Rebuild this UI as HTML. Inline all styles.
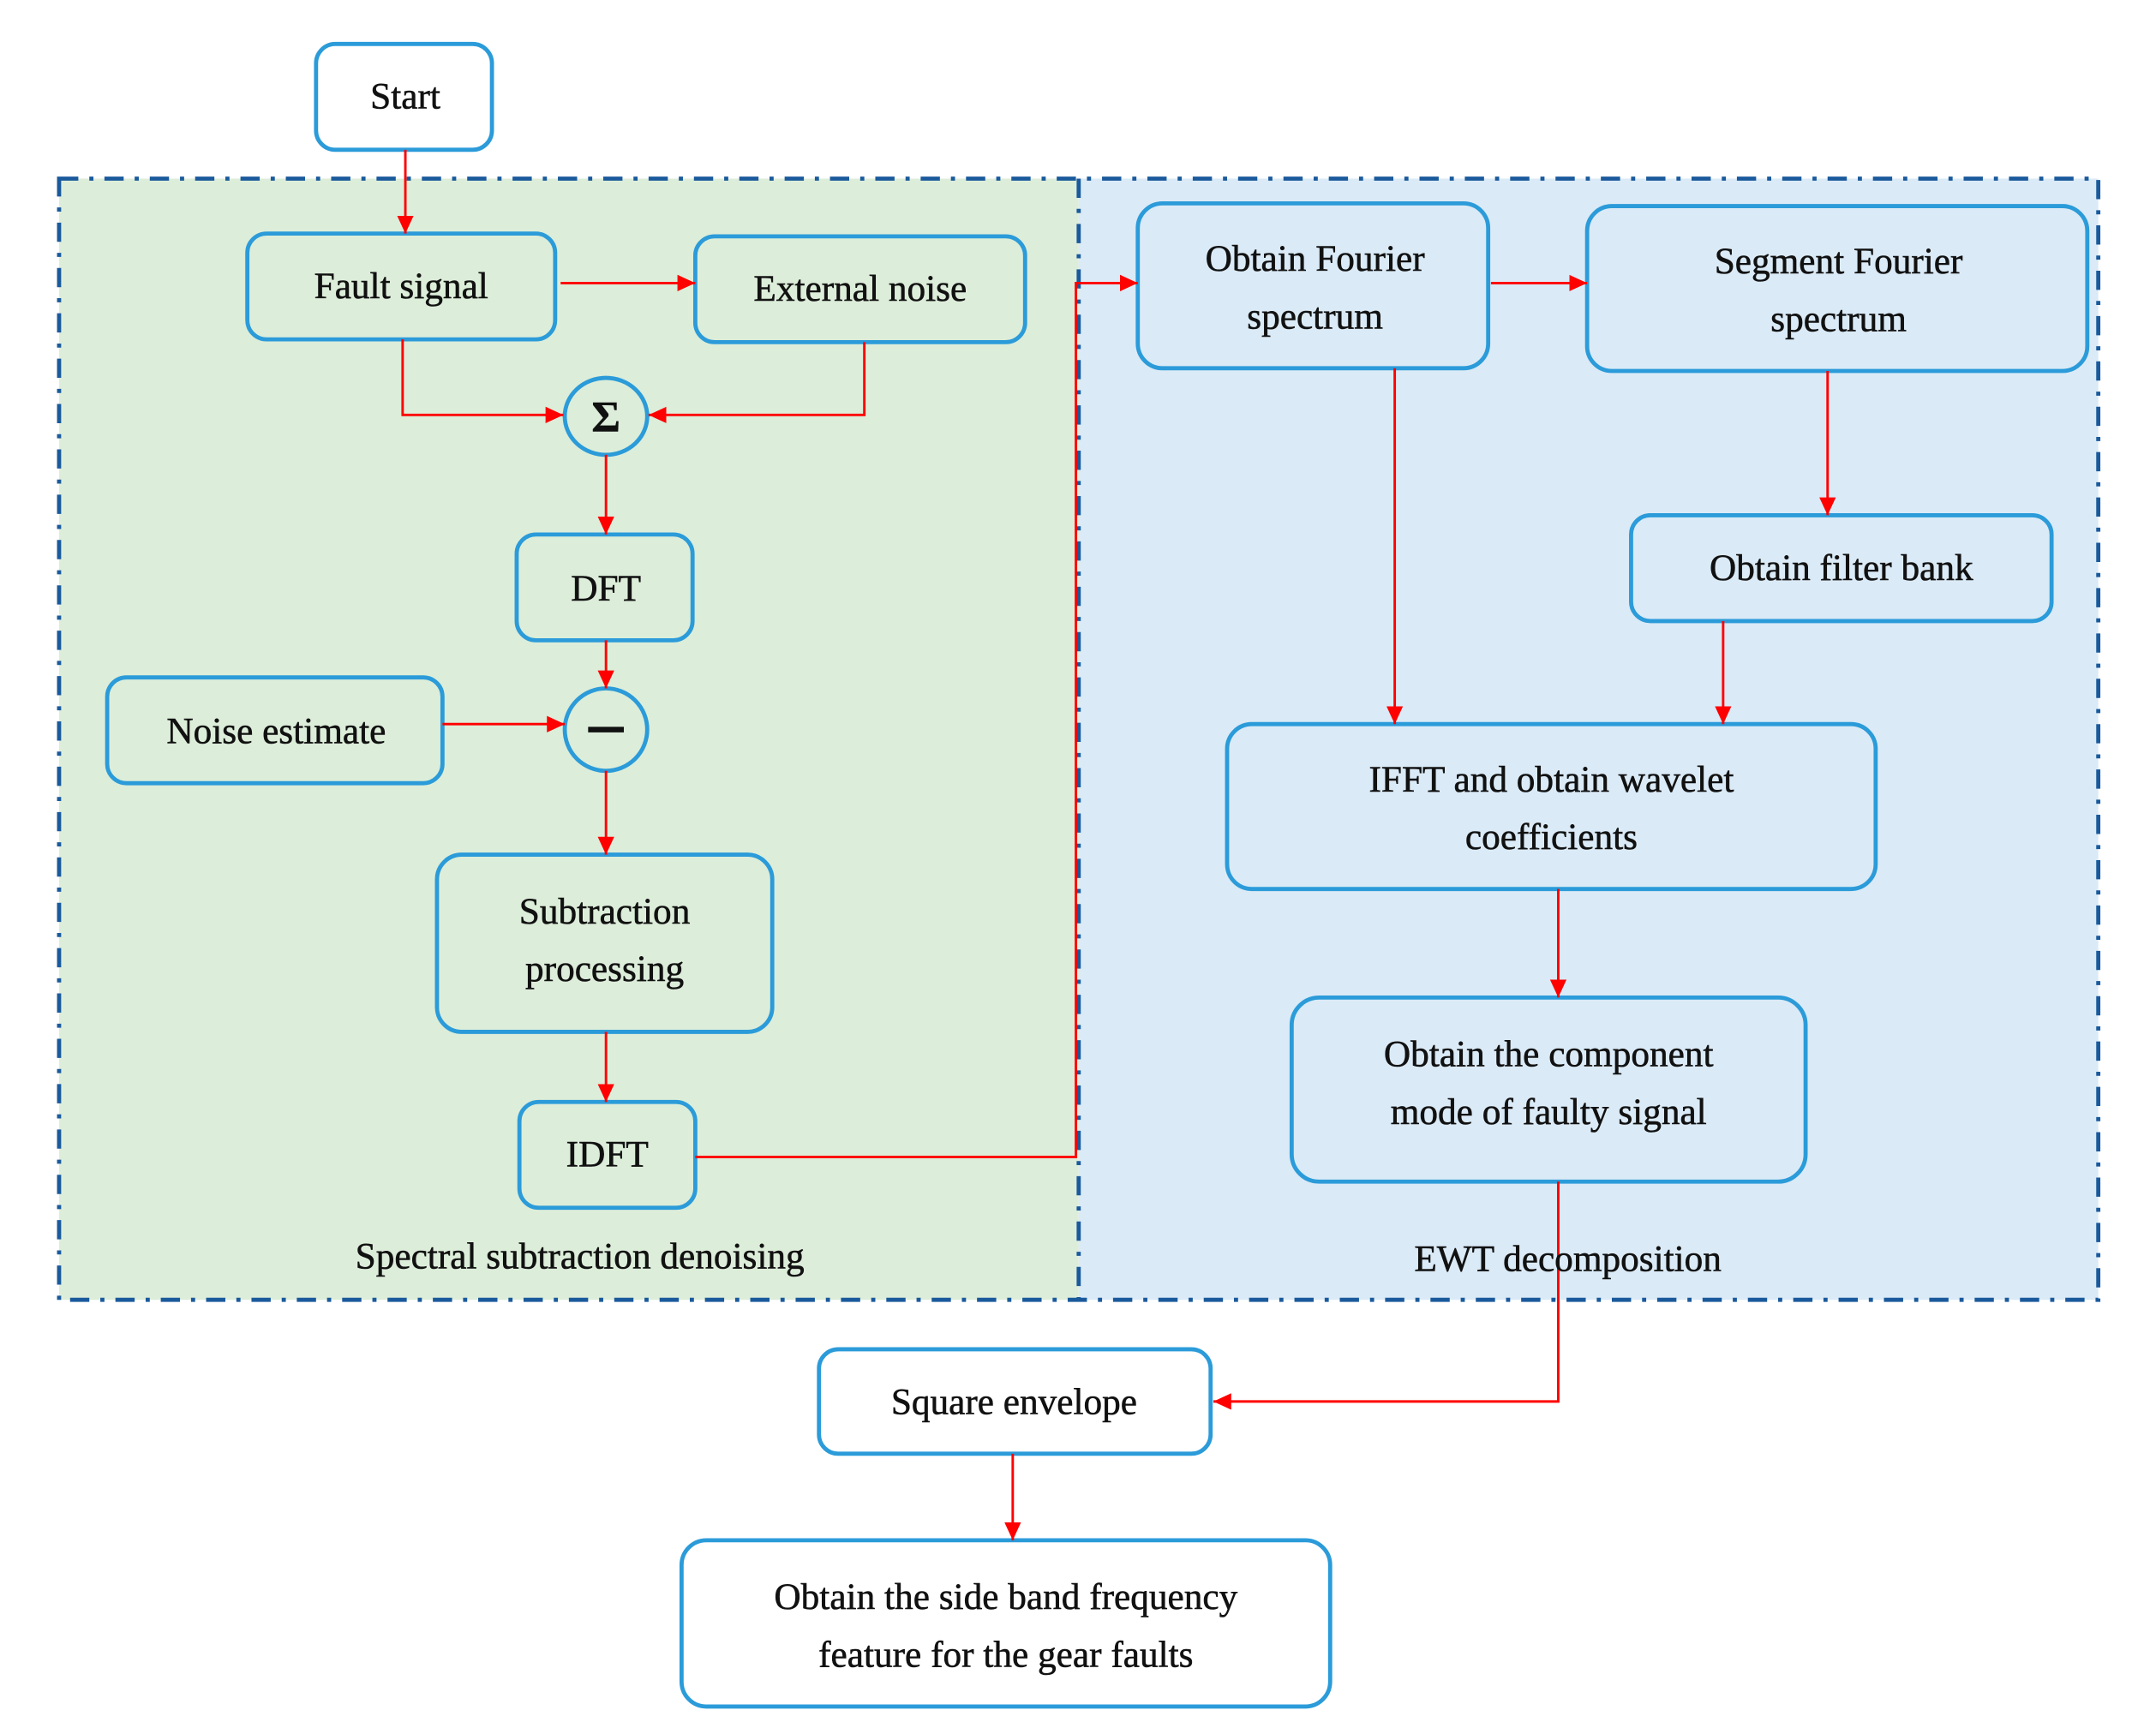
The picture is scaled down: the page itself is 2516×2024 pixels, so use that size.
<!DOCTYPE html>
<html><head><meta charset="utf-8"><style>
html,body{margin:0;padding:0;background:#fff;}
svg{display:block;}
text{font-family:"Liberation Serif",serif;font-size:27px;fill:#111;text-anchor:middle;stroke:#111;stroke-width:0.35px;}
.b{fill:none;stroke:#2b9bd9;stroke-width:3;}
.c{stroke:#f00;stroke-width:1.8;fill:none;}
</style></head><body>
<svg width="2516" height="2024" viewBox="0 0 1569 1262" preserveAspectRatio="none" xmlns="http://www.w3.org/2000/svg">
<defs><marker id="a" markerWidth="14" markerHeight="14" refX="13" refY="7" orient="auto" markerUnits="userSpaceOnUse"><path d="M0,1 L13,7 L0,13 z" fill="#f00"/></marker></defs>
<rect x="43" y="130" width="742" height="816" fill="#dcedd9"/>
<rect x="785" y="130" width="742" height="816" fill="#daeaf6"/>
<rect x="43" y="130" width="1484" height="816" fill="none" stroke="#1a5a9c" stroke-width="3" stroke-dasharray="14,8,3,8"/>
<line x1="785" y1="130" x2="785" y2="946" stroke="#1a5a9c" stroke-width="3" stroke-dasharray="14,8,3,8"/>
<rect class="b" x="230" y="32" width="128" height="77" rx="14" style="fill:#fff"/>
<rect class="b" x="596" y="982" width="285" height="76" rx="14" style="fill:#fff"/>
<rect class="b" x="496" y="1121" width="472" height="121" rx="18" style="fill:#fff"/>
<rect class="b" x="180" y="170" width="224" height="77" rx="14"/>
<rect class="b" x="506" y="172" width="240" height="77" rx="14"/>
<ellipse class="b" cx="441" cy="303" rx="30" ry="28"/>
<rect class="b" x="376" y="389" width="128" height="77" rx="14"/>
<rect class="b" x="78" y="493" width="244" height="77" rx="14"/>
<ellipse class="b" cx="441" cy="531" rx="30" ry="30"/>
<rect class="b" x="318" y="622" width="244" height="129" rx="18"/>
<rect class="b" x="378" y="802" width="128" height="77" rx="14"/>
<rect class="b" x="828" y="148" width="255" height="120" rx="18"/>
<rect class="b" x="1155" y="150" width="364" height="120" rx="18"/>
<rect class="b" x="1187" y="375" width="306" height="77" rx="14"/>
<rect class="b" x="893" y="527" width="472" height="120" rx="18"/>
<rect class="b" x="940" y="726" width="374" height="134" rx="20"/>
<g class="c">
<line x1="295" y1="109" x2="295" y2="170" marker-end="url(#a)"/>
<line x1="408" y1="206" x2="506" y2="206" marker-end="url(#a)"/>
<polyline points="293,247 293,302 410,302" marker-end="url(#a)"/>
<polyline points="629,249 629,302 472,302" marker-end="url(#a)"/>
<line x1="441" y1="331" x2="441" y2="389" marker-end="url(#a)"/>
<line x1="441" y1="466" x2="441" y2="501" marker-end="url(#a)"/>
<line x1="322" y1="527" x2="411" y2="527" marker-end="url(#a)"/>
<line x1="441" y1="561" x2="441" y2="622" marker-end="url(#a)"/>
<line x1="441" y1="751" x2="441" y2="802" marker-end="url(#a)"/>
<polyline points="506,842 783,842 783,206 828,206" marker-end="url(#a)"/>
<line x1="1085" y1="206" x2="1155" y2="206" marker-end="url(#a)"/>
<line x1="1015" y1="268" x2="1015" y2="527" marker-end="url(#a)"/>
<line x1="1330" y1="270" x2="1330" y2="375" marker-end="url(#a)"/>
<line x1="1254" y1="452" x2="1254" y2="527" marker-end="url(#a)"/>
<line x1="1134" y1="647" x2="1134" y2="726" marker-end="url(#a)"/>
<polyline points="1134,860 1134,1020 883,1020" marker-end="url(#a)"/>
<line x1="737" y1="1058" x2="737" y2="1121" marker-end="url(#a)"/>
</g>
<text x="295" y="79">Start</text>
<text x="292" y="217">Fault signal</text>
<text x="626" y="219">External noise</text>
<text x="441" y="314" style="font-size:32px;font-weight:bold">Σ</text>
<line x1="428" y1="531" x2="454" y2="531" stroke="#111" stroke-width="4"/>
<text x="441" y="437">DFT</text>
<text x="201" y="541">Noise estimate</text>
<text x="440" y="672">Subtraction</text>
<text x="440" y="714">processing</text>
<text x="442" y="849">IDFT</text>
<text x="422" y="923">Spectral subtraction denoising</text>
<text x="957" y="197">Obtain Fourier</text>
<text x="957" y="239">spectrum</text>
<text x="1338" y="199">Segment Fourier</text>
<text x="1338" y="241">spectrum</text>
<text x="1340" y="422">Obtain filter bank</text>
<text x="1129" y="576">IFFT and obtain wavelet</text>
<text x="1129" y="618">coefficients</text>
<text x="1127" y="776">Obtain the component</text>
<text x="1127" y="818">mode of faulty signal</text>
<text x="1141" y="925">EWT decomposition</text>
<text x="738" y="1029">Square envelope</text>
<text x="732" y="1171">Obtain the side band frequency</text>
<text x="732" y="1213">feature for the gear faults</text>
</svg>
</body></html>
